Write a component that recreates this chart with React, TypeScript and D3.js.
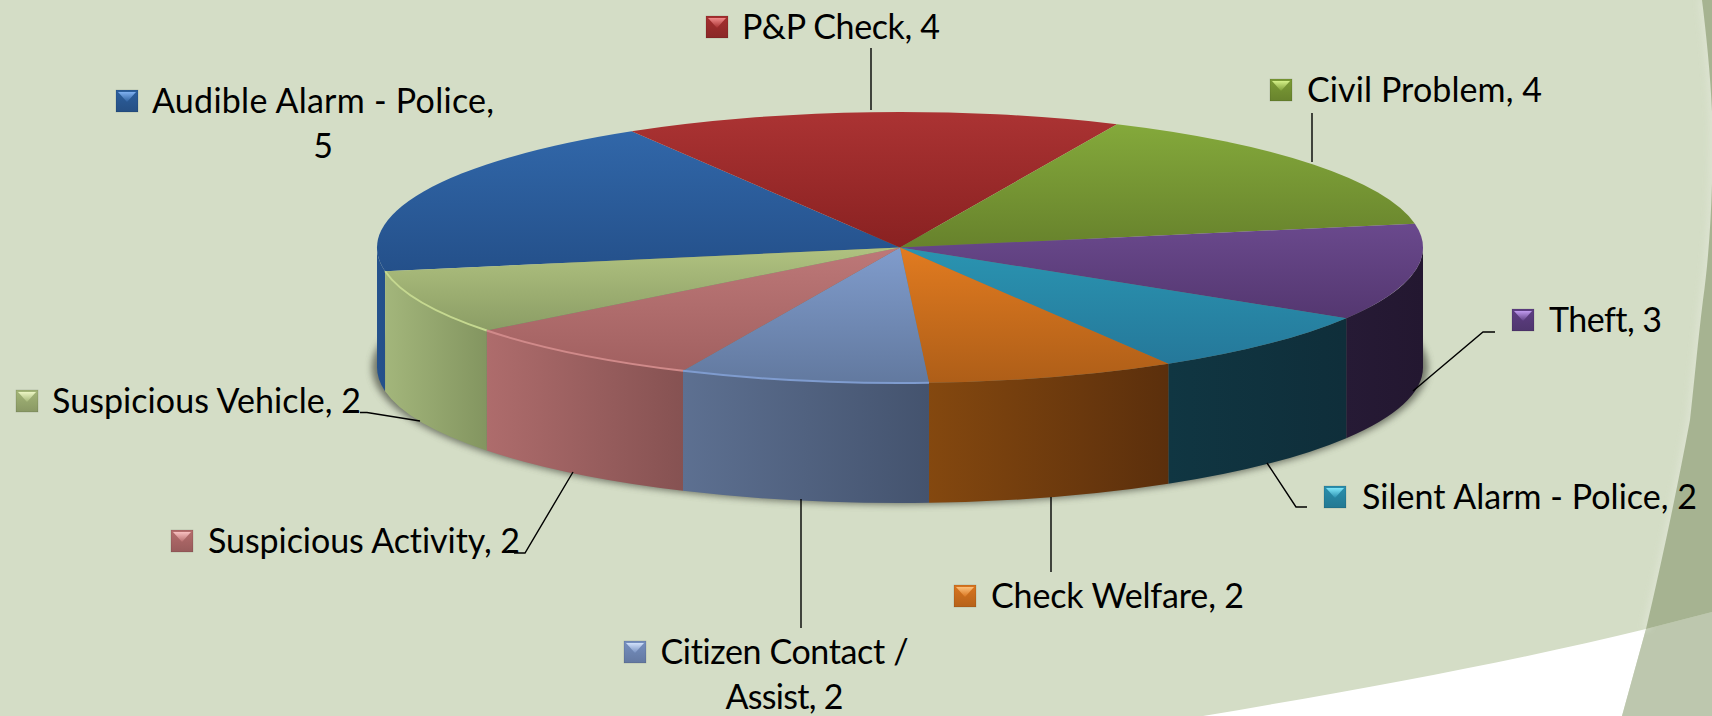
import React from "react";
import * as d3 from "d3";

const categories = ["Audible Alarm - Police","P&P Check","Civil Problem","Theft","Silent Alarm - Police","Check Welfare","Citizen Contact / Assist","Suspicious Activity","Suspicious Vehicle"];
const values = [5,4,4,3,2,2,2,2,2];
const topLight = ["#3167a9","#ab3333","#84a93b","#6a498d","#2a94b1","#e17b20","#809ccc","#bd7878","#b0c280"];
const topDark = ["#24508a","#892121","#67822c","#543770","#25789a","#ae5e18","#62799f","#a16060","#8b9d65"];
const wallLight = ["#25528c","#7a1c1c","#5a7020","#261a35","#103642","#84480f","#5d7091","#ae6c6c","#a3b67b"];
const wallDark = ["#24508a","#7a1c1c","#5a7020","#231730","#0f2e3a","#5b2f0c","#44536e","#865252","#839560"];
const rimColors = ["none","none","none","none","none","none","#7f9ccf","#d08a8a","#c5d890"];
const labelLines = [["Audible Alarm - Police,","5"],["P&P Check, 4"],["Civil Problem, 4"],["Theft, 3"],["Silent Alarm - Police, 2"],["Check Welfare, 2"],["Citizen Contact /","Assist, 2"],["Suspicious Activity, 2"],["Suspicious Vehicle, 2"]];
const lineWidths = [[342,0],[198],[235],[113],[335],[253],[248,118],[312],[309]];
const keyBase = ["#2c5f9e","#a52f2f","#7c9c36","#5f3f84","#2a8fae","#d9751f","#7690c0","#b66d6d","#a4b678"];
const keyTop = ["#7fb0f0","#f08a8a","#d4f088","#c09aee","#7fe6fa","#fcc07a","#d0e0fa","#f8c0c0","#ecf6c4"];

// label placement: key left, key bottom, text left, optional centre of wrapped lines
const keyX = [116,706,1270,1512,1324,954,624,171,16];
const baseY = [112,38,101,331,508,607,663,552,412];
const textX = [152,742,1307,1549,1362,991,660,208,52];
const lineCentre = [323,0,0,0,0,0,784.5,0,0];
const leaders: [number,number][][] = [[],[[871,48],[871,110]],[[1312,113],[1312,162]],[[1413,391],[1483,332],[1495,332]],[[1267,463],[1296,507],[1307,507]],[[1051,497],[1051,572]],[[801,499],[801,628]],[[573,472],[525,553],[514,553]],[[420,421],[367,412.5],[360,412.5]]];

const W = 1712, H = 716, cx = 900, cy = 247.5, rx = 523, ry = 135.5, depth = 120;
const deg = Math.PI / 180;

const pie = d3.pie<number>().sort(null).startAngle(-100.1 * deg).endAngle(259.9 * deg);
const arcs = pie(values);
const arcGen = d3.arc<d3.PieArcDatum<number>>().innerRadius(0).outerRadius(rx);
const line = d3.line();

const px = (a: number) => cx + rx * Math.sin(a);
const py = (a: number) => cy - ry * Math.cos(a);

function wallPath(s: number, e: number) {
  const ranges = [[Math.PI / 2, 1.5 * Math.PI], [-1.5 * Math.PI, -Math.PI / 2]];
  let out = "";
  for (const [lo, hi] of ranges) {
    const a = Math.max(s, lo), b = Math.min(e, hi);
    if (b <= a) continue;
    out += `M${px(a)},${py(a)}A${rx},${ry} 0 0 1 ${px(b)},${py(b)}L${px(b)},${py(b) + depth}A${rx},${ry} 0 0 0 ${px(a)},${py(a) + depth}Z`;
  }
  return out;
}
function rimPath(s: number, e: number) {
  return `M${px(s)},${py(s)}A${rx},${ry} 0 0 1 ${px(e)},${py(e)}`;
}

const bandEdge = "M1702,0 C1707,40 1712,90 1712.5,130 C1713,190 1710,250 1703,300 C1698,340 1694,385 1690,420 C1677,490 1660,570 1646,629";

export default function App() {
  const font = "Lato, Carlito, Calibri, sans-serif";
  return (
    <svg width={W} height={H} viewBox={`0 0 ${W} ${H}`} style={{ position: "absolute", left: 0, top: 0, display: "block" }}>
      <defs>
        <filter id="sh" x="-5%" y="-10%" width="110%" height="120%"><feGaussianBlur stdDeviation="3.5" /></filter>
        <filter id="hb" x="-50%" y="-5%" width="200%" height="110%"><feGaussianBlur stdDeviation="3" /></filter>
        {arcs.map((_, i) => (
          <React.Fragment key={i}>
            <linearGradient id={`t${i}`} x1="0" y1="0" x2="0" y2="1">
              <stop offset="0" stopColor={topLight[i]} /><stop offset="1" stopColor={topDark[i]} />
            </linearGradient>
            <linearGradient id={`w${i}`} x1="0" y1="0" x2="1" y2="0">
              <stop offset="0" stopColor={wallLight[i]} /><stop offset="1" stopColor={wallDark[i]} />
            </linearGradient>
            <linearGradient id={`k${i}`} x1="0" y1="0" x2="0" y2="1">
              <stop offset="0" stopColor={keyBase[i]} /><stop offset="1" stopColor={d3.color(keyBase[i])!.darker(0.5).formatHex()} />
            </linearGradient>
            <linearGradient id={`kt${i}`} x1="0" y1="0" x2="0" y2="1">
              <stop offset="0" stopColor={keyTop[i]} /><stop offset="1" stopColor={keyBase[i]} />
            </linearGradient>
          </React.Fragment>
        ))}
      </defs>
      <rect width={W} height={H} fill="#d4ddc6" />
      {/* page decoration */}
      <path d="M1203,716 C1370,688 1520,660 1646,629 L1622,716 Z" fill="#ffffff" />
      <path d="M1646,629 L1622,716 L1712,716 L1712,612 Z" fill="#bdc7ae" />
      <path d={bandEdge} fill="none" stroke="#e2e7d8" strokeWidth="6" opacity="0.7" filter="url(#hb)" />
      <path d={`${bandEdge} L1712,612 L1714,0 Z`} fill="#a6b391" />
      {/* shadow */}
      <ellipse cx={cx} cy={cy + depth} rx={rx + 5} ry={ry + 1.5} fill="#5f6456" opacity="0.85" filter="url(#sh)" />
      {/* walls */}
      {arcs.map((a, i) => (
        <path key={i} d={wallPath(a.startAngle, a.endAngle)} fill={`url(#w${i})`} />
      ))}
      {/* top faces */}
      <g transform={`translate(${cx},${cy}) scale(1,${ry / rx})`}>
        {arcs.map((a, i) => (
          <path key={i} d={arcGen(a)!} fill={`url(#t${i})`} />
        ))}
      </g>
      {arcs.map((a, i) => rimColors[i] === "none" ? null : (
        <path key={i} d={rimPath(a.startAngle, a.endAngle)} fill="none" stroke={rimColors[i]} strokeWidth="2" />
      ))}
      {/* leaders */}
      {leaders.map((l, i) => l.length ? <path key={i} d={line(l)!} fill="none" stroke="#000" strokeWidth="1.4" /> : null)}
      {/* labels */}
      {categories.map((c, i) => {
        const x = keyX[i], y = baseY[i] - 22;
        return (
          <g key={c}>
            <rect x={x} y={y} width={22} height={22} fill={`url(#k${i})`} stroke="#00000033" strokeWidth="0.6" />
            <path d={`M${x + 2},${y + 2}H${x + 20}L${x + 11},${y + 12}Z`} fill={`url(#kt${i})`} />
            {labelLines[i].map((t, j) => {
              const len = lineWidths[i][j];
              return (
                <text key={j} x={lineCentre[i] ? lineCentre[i] : textX[i]} y={baseY[i] + 0.5 + j * 45}
                  textAnchor={lineCentre[i] ? "middle" : "start"} fontFamily={font} fontSize={34} fill="#000"
                  style={{ fontVariantLigatures: "none" }}
                  {...(len ? { textLength: len, lengthAdjust: "spacing" } : {})}>{t}</text>
              );
            })}
          </g>
        );
      })}
    </svg>
  );
}
